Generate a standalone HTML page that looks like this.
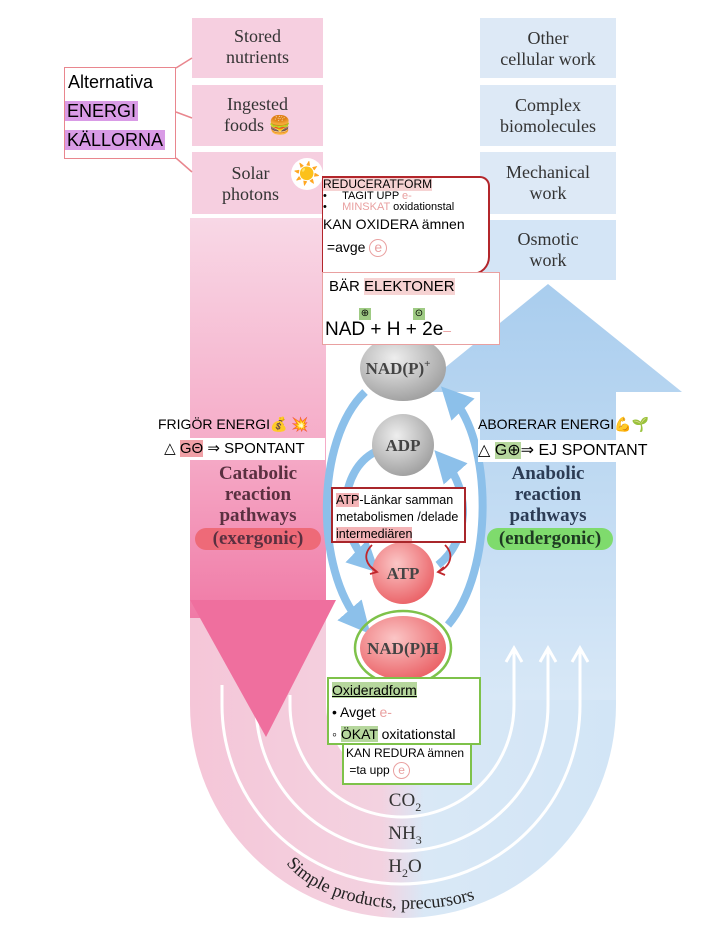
<!DOCTYPE html>
<html><head><meta charset="utf-8"><style>
html,body{margin:0;padding:0;background:#fff;}
body{width:718px;height:943px;position:relative;overflow:hidden;font-family:"Liberation Sans",sans-serif;}
.a{position:absolute;}
.serif{font-family:"Liberation Serif",serif;color:#333;}
</style></head><body>
<svg class="a" style="left:0;top:0" width="718" height="943" viewBox="0 0 718 943">
<defs>
<linearGradient id="ug" x1="0" x2="1" y1="0" y2="0">
<stop offset="0" stop-color="#f5c6d8"/><stop offset="0.45" stop-color="#f3d2e0"/><stop offset="0.55" stop-color="#d9e8f6"/><stop offset="1" stop-color="#d2e5f6"/></linearGradient>
<linearGradient id="pg" x1="0" x2="0" y1="0" y2="1">
<stop offset="0" stop-color="#f8d8e6"/><stop offset="0.6" stop-color="#f5a9c6"/><stop offset="1" stop-color="#f07aa6"/></linearGradient>
<linearGradient id="bg" x1="0" x2="0" y1="0" y2="1">
<stop offset="0" stop-color="#a9cdee"/><stop offset="1" stop-color="#d8e8f7"/></linearGradient>
<radialGradient id="gr" cx="0.4" cy="0.35" r="0.7"><stop offset="0" stop-color="#eee"/><stop offset="1" stop-color="#9d9d9d"/></radialGradient>
<radialGradient id="rd" cx="0.4" cy="0.35" r="0.7"><stop offset="0" stop-color="#fbc6c6"/><stop offset="1" stop-color="#ea5f64"/></radialGradient>
<marker id="ah" markerWidth="4" markerHeight="4" refX="2" refY="2" orient="auto"><path d="M0,0 L4,2 L0,4 z" fill="#8cc0ea"/></marker>
</defs>
<path d="M190,600 L190,705 A213,213 0 0 0 616,705 L616,600 L480,600 L480,705 A77,77 0 0 1 326,705 L326,600 Z" fill="url(#ug)"/>
<rect x="190" y="218" width="136" height="400" fill="url(#pg)"/>
<rect x="192" y="18" width="131" height="60" fill="#f6cfe0"/>
<rect x="192" y="85" width="131" height="61" fill="#f6cfe0"/>
<rect x="192" y="152" width="131" height="62" fill="#f6cfe0"/>
<rect x="480" y="18" width="136" height="60" fill="#dde9f6"/>
<rect x="480" y="85" width="136" height="61" fill="#dde9f6"/>
<rect x="480" y="152" width="136" height="62" fill="#dde9f6"/>
<rect x="480" y="220" width="136" height="60" fill="#d4e5f6"/>
<path d="M415,392 L548,284 L682,392 L616,392 L616,700 L480,700 L480,392 Z" fill="url(#bg)"/>
<g fill="none" stroke="#fff" stroke-width="3">
<path d="M290,695 L290,705 A112,112 0 0 0 514,705 L514,650"/>
<path d="M256,690 L256,705 A146,146 0 0 0 548,705 L548,650"/>
<path d="M222,685 L222,705 A178,178 0 0 0 580,705 L580,650"/>
<path d="M506,662 L514,648 L522,662"/><path d="M540,662 L548,648 L556,662"/><path d="M572,662 L580,648 L588,662"/>
</g>
<path d="M190,600 L336,600 L266,737 Z" fill="#ef6f9e"/>
<g fill="none" stroke="#8cc0ea" stroke-width="8" marker-end="url(#ah)">
<path d="M365,392 C315,440 315,570 360,622"/>
<path d="M448,625 C495,570 492,440 452,398"/>
<path d="M375,452 C340,470 335,530 368,562"/>
<path d="M438,565 C470,540 470,490 445,462"/>
</g>
<ellipse cx="403" cy="368" rx="43" ry="33" fill="url(#gr)"/>
<circle cx="403" cy="445" r="31" fill="url(#gr)"/>
<circle cx="403" cy="573" r="31" fill="url(#rd)"/>
<ellipse cx="403" cy="648" rx="43" ry="32" fill="url(#rd)"/>
<ellipse cx="403" cy="648" rx="48" ry="37" fill="none" stroke="#7ec24a" stroke-width="2.5"/>
<g font-family="Liberation Serif,serif" fill="#444" text-anchor="middle" font-size="17" font-weight="bold">
<text x="398" y="374">NAD(P)<tspan font-size="11" dy="-7">+</tspan></text>
<text x="403" y="451">ADP</text>
<text x="403" y="579">ATP</text>
<text x="403" y="654">NAD(P)H</text>
</g>
<g fill="none" stroke="#c0262c" stroke-width="1.8">
<path d="M372,545 C362,555 366,565 377,572"/><path d="M371,567 L377,572 L370,574"/>
<path d="M445,545 C455,555 450,567 438,572"/><path d="M444,567 L438,572 L445,575"/>
</g>
<g fill="none" stroke="#e9868e" stroke-width="1.5">
<path d="M176,68 L192,58"/><path d="M176,112 L192,118"/><path d="M176,158 L192,172"/>
</g>
<path id="arc" d="M285,862 A135,75 0 0 0 535,862" fill="none"/>
<text font-family="Liberation Serif,serif" font-size="18" fill="#222"><textPath href="#arc" startOffset="2">Simple products, precursors</textPath></text>
</svg>

<div class="a serif" style="left:192px;top:26px;width:131px;text-align:center;font-size:18px;line-height:21px">Stored<br>nutrients</div>
<div class="a serif" style="left:192px;top:94px;width:131px;text-align:center;font-size:18px;line-height:21px">Ingested<br>foods 🍔</div>
<div class="a serif" style="left:185px;top:163px;width:131px;text-align:center;font-size:18px;line-height:21px">Solar<br>photons</div>
<div class="a" style="left:291px;top:158px;width:32px;height:32px;border-radius:50%;background:#fff;text-align:center;font-size:22px;line-height:32px">☀️</div>
<div class="a serif" style="left:480px;top:28px;width:136px;text-align:center;font-size:18px;line-height:21px">Other<br>cellular work</div>
<div class="a serif" style="left:480px;top:95px;width:136px;text-align:center;font-size:18px;line-height:21px">Complex<br>biomolecules</div>
<div class="a serif" style="left:480px;top:162px;width:136px;text-align:center;font-size:18px;line-height:21px">Mechanical<br>work</div>
<div class="a serif" style="left:480px;top:229px;width:136px;text-align:center;font-size:18px;line-height:21px">Osmotic<br>work</div>

<div class="a" style="left:64px;top:67px;width:110px;height:90px;border:1.5px solid #e9868e;background:#fff;font-size:18px;line-height:29px">
<div style="padding-left:3px">Alternativa</div>
<div><span style="background:#d99be6;padding:0 2px">ENERGI</span></div>
<div><span style="background:#d99be6;padding:0 2px">KÄLLORNA</span></div>
</div>

<div class="a" style="left:322px;top:176px;width:165px;height:95px;border:2px solid #b3262b;border-left-width:1.5px;border-radius:0 10px 18px 0;background:#fff;font-size:12px;line-height:13px">
<div style="background:#f6d3d3;display:inline-block">REDUCERATFORM</div>
<div style="font-size:11px;line-height:11px">•&nbsp;&nbsp;&nbsp;&nbsp;&nbsp;TAGIT UPP <span style="color:#e9a0a0">e-</span><br>•&nbsp;&nbsp;&nbsp;&nbsp;&nbsp;<span style="color:#e9a0a0">MINSKAT</span> oxidationstal</div>
<div style="font-size:14px;margin-top:5px">KAN OXIDERA ämnen</div>
<div style="font-size:14px;margin-top:8px">&nbsp;=avge <span style="display:inline-block;width:16px;height:16px;border:1px solid #e9a0a0;border-radius:50%;color:#e9a0a0;text-align:center;line-height:15px">e</span></div>
</div>
<div class="a" style="left:322px;top:272px;width:176px;height:71px;border:1.5px solid #e9a0a0;background:#fff">
<div class="a" style="left:6px;top:5px;font-size:15px"><span>BÄR </span><span style="background:#f6d3d3">ELEKTONER</span></div>
<div class="a" style="left:36px;top:35px;width:12px;height:12px;background:#9fcb84;font-size:10px;text-align:center;line-height:12px">⊕</div>
<div class="a" style="left:90px;top:35px;width:12px;height:12px;background:#9fcb84;font-size:10px;text-align:center;line-height:12px">⊙</div>
<div class="a" style="left:2px;top:46px;font-size:19px;white-space:nowrap">NAD + H + 2e<span style="color:#e9a0a0;font-size:14px">–</span></div>
</div>

<div class="a" style="left:158px;top:416px;font-size:14px;white-space:nowrap">FRIGÖR ENERGI💰 💥</div>
<div class="a" style="left:160px;top:438px;width:165px;height:22px;background:#fff;font-size:15px;line-height:22px;white-space:nowrap">&nbsp;△ <span style="background:#f0a0a6">GΘ</span> ⇒ SPONTANT</div>
<div class="a" style="left:478px;top:416px;font-size:14px;white-space:nowrap">ABORERAR ENERGI💪🌱</div>
<div class="a" style="left:478px;top:440px;width:190px;height:22px;background:#fff;font-size:16px;line-height:22px;white-space:nowrap">△ <span style="background:#b6d79d">G⊕</span>⇒ EJ SPONTANT</div>

<div class="a serif" style="left:190px;top:463px;width:136px;text-align:center;font-size:19px;line-height:21px;font-weight:bold;color:#5a3040">Catabolic<br>reaction<br>pathways</div>
<div class="a serif" style="left:195px;top:528px;width:126px;height:22px;border-radius:11px;background:#ee6a78;text-align:center;font-size:19px;line-height:22px;font-weight:bold;color:#5a3040">(exergonic)</div>
<div class="a serif" style="left:480px;top:463px;width:136px;text-align:center;font-size:19px;line-height:21px;font-weight:bold;color:#2c3c55">Anabolic<br>reaction<br>pathways</div>
<div class="a serif" style="left:487px;top:528px;width:126px;height:22px;border-radius:11px;background:#7fdb6d;text-align:center;font-size:19px;line-height:22px;font-weight:bold;color:#1e3a22">(endergonic)</div>

<div class="a" style="left:331px;top:487px;width:135px;height:56px;border:2px solid #a9262b;background:#fff;font-size:12.5px;line-height:17px;padding:3px 0 0 3px;box-sizing:border-box;white-space:nowrap">
<span style="background:#f3b3b6">ATP</span>-Länkar samman<br>metabolismen /delade<br><span style="background:#f3b3b6">intermediären</span></div>

<div class="a" style="left:327px;top:677px;width:154px;height:68px;border:2px solid #7ec24a;background:#fff;box-sizing:border-box;font-size:14px;line-height:22px;padding-left:3px;white-space:nowrap">
<div><span style="background:#b6d79d;text-decoration:underline">Oxideradform</span></div>
<div>• Avget <span style="color:#e9a0a0">e-</span></div>
<div>◦ <span style="background:#b6d79d">ÖKAT</span> oxitationstal</div>
</div>
<div class="a" style="left:342px;top:745px;width:130px;height:40px;border:2px solid #7ec24a;border-top:none;background:#fff;box-sizing:border-box;font-size:12px;line-height:17px;padding-left:2px;white-space:nowrap">
KAN REDURA ämnen<br>&nbsp;=ta upp <span style="display:inline-block;width:15px;height:15px;border:1px solid #e9a0a0;border-radius:50%;color:#e9a0a0;text-align:center;line-height:14px">e</span></div>

<div class="a serif" style="left:370px;top:790px;width:70px;text-align:center;font-size:19px">CO<sub style="font-size:12px">2</sub></div>
<div class="a serif" style="left:370px;top:823px;width:70px;text-align:center;font-size:19px">NH<sub style="font-size:12px">3</sub></div>
<div class="a serif" style="left:370px;top:856px;width:70px;text-align:center;font-size:19px">H<sub style="font-size:12px">2</sub>O</div>
</body></html>
